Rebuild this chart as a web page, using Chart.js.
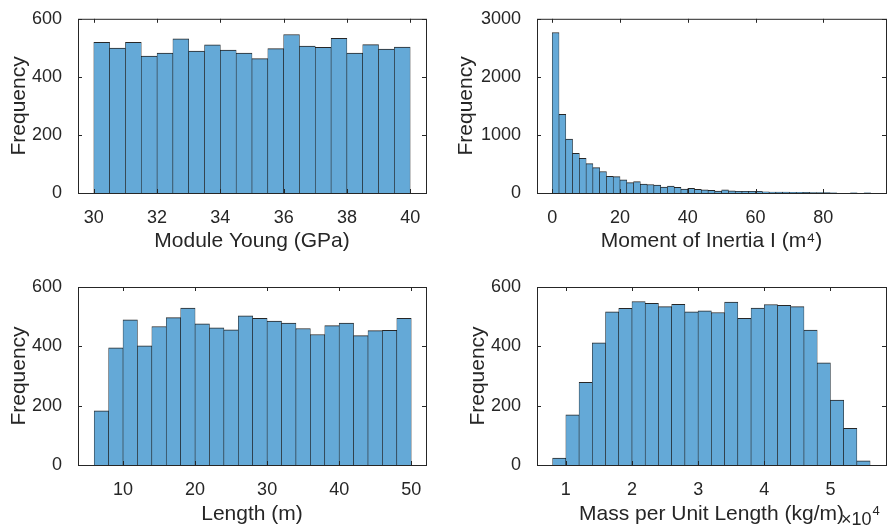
<!DOCTYPE html>
<html>
<head>
<meta charset="utf-8">
<script src="https://cdn.jsdelivr.net/npm/chart.js@4.4.1/dist/chart.umd.min.js"></script>
<style>
  html, body { margin: 0; padding: 0; background: #fff; }
  #wrap { position: relative; width: 888px; height: 528px; }
  #wrap canvas { position: absolute; left: 0; top: 0; }
</style>
</head>
<body>
<div id="wrap">
  <canvas id="young" width="888" height="528"></canvas>
  <canvas id="inertia" width="888" height="528"></canvas>
  <canvas id="length" width="888" height="528"></canvas>
  <canvas id="mass" width="888" height="528"></canvas>
</div>
<script>
// histogram data (bin left edges + counts)
const youngEdges = [30, 30.5, 31, 31.5, 32, 32.5, 33, 33.5, 34, 34.5, 35, 35.5, 36, 36.5, 37, 37.5, 38, 38.5, 39, 39.5];
const youngCounts = [519, 499, 519, 472, 482, 531, 489, 510, 492, 482, 463, 497, 546, 506, 502, 533, 482, 511, 496, 503];
const youngTicks = [30, 32, 34, 36, 38, 40];

const inertiaEdges = [0, 2, 4, 6, 8, 10, 12, 14, 16, 18, 20, 22, 24, 26, 28, 30, 32, 34, 36, 38, 40, 42, 44, 46,
  48, 50, 52, 54, 56, 58, 60, 62, 64, 66, 68, 70, 72, 74, 76, 78, 80, 82, 84, 86, 88, 90, 92];
const inertiaCounts = [2764, 1354, 927, 685, 596, 506, 438, 371, 287, 282, 225, 180, 197, 152, 146, 135, 101, 118, 96, 67, 79, 62, 56, 45,
  34, 56, 39, 28, 28, 28, 28, 22, 17, 15, 14, 12, 12, 10, 9, 8, 6, 5, 0, 0, 2, 0, 2];
const inertiaTicks = [0, 20, 40, 60, 80];
const inertiaYTicks = [0, 1000, 2000, 3000];

const lengthEdges = [6, 8, 10, 12, 14, 16, 18, 20, 22, 24, 26, 28, 30, 32, 34, 36, 38, 40, 42, 44, 46, 48];
const lengthCounts = [183, 395, 489, 402, 467, 497, 529, 476, 462, 456, 503, 494, 485, 478, 460, 440, 470, 478, 436, 453, 454, 494];
const lengthTicks = [10, 20, 30, 40, 50];

const massEdges = [8000, 10000, 12000, 14000, 16000, 18000, 20000, 22000, 24000, 26000, 28000, 30000,
  32000, 34000, 36000, 38000, 40000, 42000, 44000, 46000, 48000, 50000, 52000, 54000];
const massCounts = [23, 169, 279, 412, 516, 528, 551, 545, 534, 542, 516, 520, 514, 549, 494, 529, 541, 538, 534, 455, 344, 219, 124, 14];
const massTicks = [10000, 20000, 30000, 40000, 50000];
const massTickLabels = ['1', '2', '3', '4', '5'];

const freqTicks = [0, 200, 400, 600];

const INK = '#262626';
const FILL = 'rgb(100,169,215)';
const EDGE = 'rgba(0,0,0,0.85)';
const FAMILY = "'Liberation Sans', Arial, sans-serif";
const TICK_FONT = { family: FAMILY, size: 18 };
const TITLE_FONT = { family: FAMILY, size: 21 };

Chart.defaults.font.family = FAMILY;

// box around the axes with inward tick marks, like matlab
const matlabAxes = {
  id: 'matlabAxes',
  afterDraw(chart, args, opts) {
    const { ctx, chartArea: a, scales: { x, y } } = chart;
    ctx.save();
    ctx.strokeStyle = INK;
    ctx.lineWidth = 1;
    ctx.beginPath();
    x.ticks.forEach(t => {
      const px = Math.round(x.getPixelForValue(t.value)) + 0.5;
      ctx.moveTo(px, a.bottom); ctx.lineTo(px, a.bottom - 4);
      ctx.moveTo(px, a.top); ctx.lineTo(px, a.top + 4);
    });
    y.ticks.forEach(t => {
      const py = Math.round(y.getPixelForValue(t.value)) + 0.5;
      ctx.moveTo(a.left, py); ctx.lineTo(a.left + 4, py);
      ctx.moveTo(a.right, py); ctx.lineTo(a.right - 4, py);
    });
    ctx.stroke();
    ctx.strokeRect(a.left + 0.5, a.top + 0.5, a.right - a.left, a.bottom - a.top);

    if (opts.exponent) {
      ctx.fillStyle = INK;
      ctx.textBaseline = 'alphabetic';
      ctx.textAlign = 'left';
      ctx.font = '18px ' + FAMILY;
      ctx.fillText('\u00d710', opts.exponent.x, opts.exponent.y);
      const w = ctx.measureText('\u00d710').width;
      ctx.font = '13px ' + FAMILY;
      ctx.fillText(opts.exponent.power, opts.exponent.x + w + 1, opts.exponent.y - 10);
    }
    ctx.restore();
  }
};

function makeHist(id, edges, binWidth, counts, o) {
  const half = TITLE_FONT.size * 0.6;
  const padLeft = o.yTitleX - half;
  const padBottom = 528 - (o.xTitleY + half);
  const pts = edges.map((e, i) => ({ x: e + binWidth / 2, y: counts[i] }));

  return new Chart(document.getElementById(id), {
    type: 'bar',
    data: {
      datasets: [{
        data: pts,
        backgroundColor: FILL,
        borderColor: EDGE,
        borderWidth: { top: 1, left: 0.6, right: 0.6, bottom: 0 },
        barPercentage: 1,
        categoryPercentage: 1
      }]
    },
    options: {
      responsive: false,
      animation: false,
      layout: { padding: { left: padLeft, top: o.box.t, right: 888 - o.box.r, bottom: padBottom } },
      plugins: {
        legend: { display: false },
        tooltip: { enabled: false },
        matlabAxes: { exponent: o.exponent }
      },
      scales: {
        x: {
          type: 'linear',
          offset: false,
          min: o.xMin,
          max: o.xMax,
          afterBuildTicks: s => { s.ticks = o.xTicks.map(v => ({ value: v })); },
          afterFit: s => { s.height = 528 - padBottom - o.box.b; },
          grid: { display: false },
          border: { display: false },
          ticks: {
            autoSkip: false, maxRotation: 0, padding: 6, color: INK, font: TICK_FONT,
            callback: (v, i) => o.xLabels ? o.xLabels[i] : String(v)
          },
          title: { display: true, text: o.xTitle, color: INK, font: TITLE_FONT, padding: 0 }
        },
        y: {
          min: 0,
          max: o.yTicks[o.yTicks.length - 1],
          afterBuildTicks: s => { s.ticks = o.yTicks.map(v => ({ value: v })); },
          afterFit: s => { s.width = o.box.l - padLeft; },
          grid: { display: false },
          border: { display: false },
          ticks: { padding: 8, color: INK, font: TICK_FONT, callback: v => String(v) },
          title: { display: true, text: 'Frequency', color: INK, font: TITLE_FONT, padding: 0 }
        }
      }
    },
    plugins: [matlabAxes]
  });
}

makeHist('young', youngEdges, 0.5, youngCounts, {
  box: { l: 78, r: 426, t: 15, b: 193 }, yTitleX: 19, xTitleY: 241,
  xMin: 29.5, xMax: 40.5, xTicks: youngTicks, yTicks: freqTicks,
  xTitle: 'Module Young (GPa)'
});

makeHist('inertia', inertiaEdges, 2, inertiaCounts, {
  box: { l: 537, r: 886, t: 15, b: 193 }, yTitleX: 466, xTitleY: 241,
  xMin: -4.5, xMax: 98.5, xTicks: inertiaTicks, yTicks: inertiaYTicks,
  xTitle: 'Moment of Inertia I (m\u2074)'
});

makeHist('length', lengthEdges, 2, lengthCounts, {
  box: { l: 78, r: 426, t: 287, b: 465 }, yTitleX: 19, xTitleY: 514,
  xMin: 3.75, xMax: 52.05, xTicks: lengthTicks, yTicks: freqTicks,
  xTitle: 'Length (m)'
});

makeHist('mass', massEdges, 2000, massCounts, {
  box: { l: 537, r: 886, t: 287, b: 465 }, yTitleX: 478, xTitleY: 514,
  xMin: 5640, xMax: 58400, xTicks: massTicks, xLabels: massTickLabels, yTicks: freqTicks,
  xTitle: 'Mass per Unit Length (kg/m)',
  exponent: { x: 841, y: 525, power: '4' }
});
</script>
</body>
</html>
